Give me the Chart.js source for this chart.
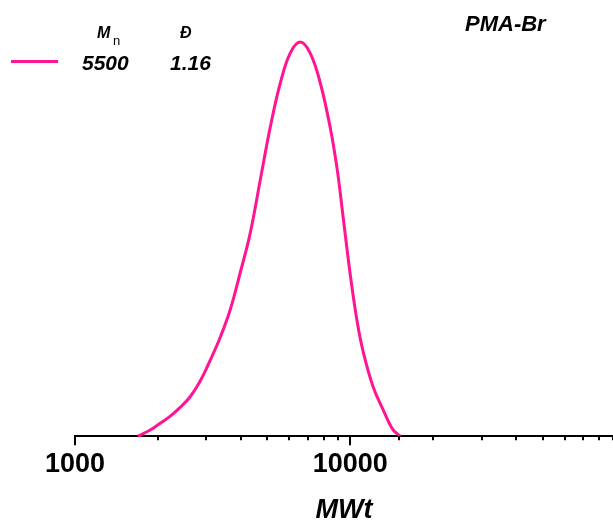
<!DOCTYPE html>
<html>
<head>
<meta charset="utf-8">
<script src="https://cdn.jsdelivr.net/npm/chart.js@4/dist/chart.umd.min.js"></script>
<style>
  body { margin: 0; background: #fff; }
  #wrap { position: relative; width: 613px; height: 525px; font-family: "Liberation Sans", Arial, sans-serif; }
  #wrap .lbl { position: absolute; line-height: 1; white-space: nowrap; color: #000; font-weight: bold; font-style: italic; }
  #legendLine { position: absolute; left: 11px; top: 60px; width: 47px; height: 3px; background: #ff1493; }
</style>
</head>
<body>
<div id="wrap">
  <canvas id="gpcChart" width="613" height="525"></canvas>
  <div id="legendLine"></div>
  <div class="lbl" style="left:97px; top:25px; font-size:16px;">M</div>
  <div class="lbl" style="left:113px; top:34px; font-size:13px; font-style:normal; font-weight:normal;">n</div>
  <div class="lbl" style="left:180px; top:25px; font-size:16px;">Đ</div>
  <div class="lbl" style="left:82px; top:52px; font-size:21px;">5500</div>
  <div class="lbl" style="left:170px; top:52px; font-size:21px;">1.16</div>
  <div class="lbl" style="left:465px; top:13px; font-size:22px;">PMA-Br</div>
</div>
<script>
// GPC trace (MW on log axis, normalised signal)
const molWeights = [1690, 1870, 2040, 2220, 2410, 2620, 2850, 3100, 3370, 3660, 3980, 4330, 4710, 5120, 5570,
  6050, 6580, 7150, 7780, 8460, 8970, 9430, 10000, 10600, 11150, 12120, 13180, 13740, 14340, 15200];
const signal = [0, 0.015, 0.033, 0.051, 0.073, 0.100, 0.140, 0.193, 0.251, 0.320, 0.414, 0.515, 0.650, 0.784, 0.896,
  0.972, 1.0, 0.972, 0.896, 0.782, 0.675, 0.553, 0.409, 0.289, 0.213, 0.124, 0.066, 0.038, 0.015, 0];
const labeledTicks = [1000, 10000];

const tickMarks = {
  id: 'tickMarks',
  afterDraw(chart) {
    const scale = chart.scales.x;
    const ctx = chart.ctx;
    const y0 = scale.top;
    ctx.save();
    ctx.strokeStyle = '#000';
    ctx.lineWidth = 2;
    scale.ticks.forEach(t => {
      const x = Math.round(scale.getPixelForValue(t.value));
      const len = labeledTicks.includes(t.value) ? 9 : 4;
      ctx.beginPath();
      ctx.moveTo(x, y0);
      ctx.lineTo(x, y0 + len);
      ctx.stroke();
    });
    ctx.restore();
  }
};

const ctx = document.getElementById('gpcChart').getContext('2d');
const chart = new Chart(ctx, {
  type: 'line',
  data: {
    datasets: [{
      data: molWeights.map((mw, i) => ({ x: mw, y: signal[i] })),
      borderColor: '#ff1493',
      borderWidth: 3,
      pointRadius: 0,
      fill: false,
      tension: 0.4,
      clip: false
    }]
  },
  options: {
    responsive: false,
    animation: false,
    layout: { padding: { top: 42, left: 75, right: 0, bottom: 0 } },
    plugins: { legend: { display: false }, tooltip: { enabled: false } },
    scales: {
      x: {
        type: 'logarithmic',
        min: 1000,
        max: 90000,
        afterFit(scale) {
          scale.paddingRight = 0;
        },
        grid: { display: false },
        border: { display: true, color: '#000', width: 2 },
        ticks: {
          autoSkip: false,
          maxRotation: 0,
          padding: 4,
          color: '#000',
          font: { family: 'Liberation Sans', size: 27, weight: 'bold' },
          callback: v => labeledTicks.includes(v) ? String(v) : ''
        },
        title: {
          display: true,
          text: 'MWt',
          color: '#000',
          font: { family: 'Liberation Sans', size: 27, weight: 'bold', style: 'italic' },
          padding: { top: 10, bottom: -2 }
        }
      },
      y: {
        display: false,
        min: 0,
        max: 1
      }
    }
  },
  plugins: [tickMarks]
});
</script>
</body>
</html>
